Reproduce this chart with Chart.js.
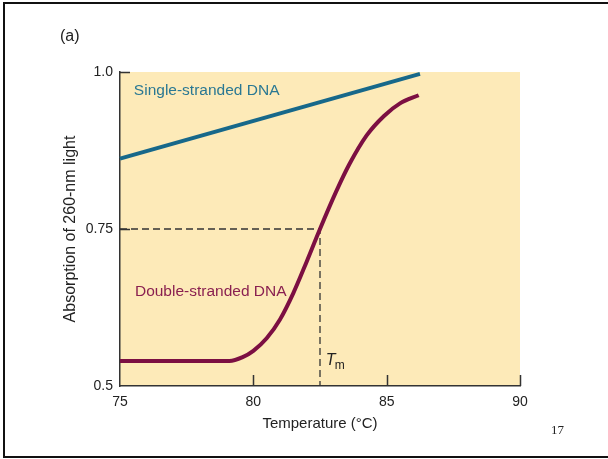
<!DOCTYPE html>
<html>
<head>
<meta charset="utf-8">
<script src="https://cdn.jsdelivr.net/npm/chart.js@4"></script>
<style>
  body { margin: 0; background: #fff; overflow: hidden; }
  #frame { position: absolute; left: 3px; top: 2px; width: 620px; height: 452px; border: 2px solid #111; }
  #dna { position: absolute; left: 0; top: 0; }
</style>
</head>
<body>
<div id="frame"></div>
<canvas id="dna" width="608" height="459"></canvas>
<script>
// temperature (°C) / absorption
const singleTemp = [75, 86.25]
const singleAbs = [0.862, 0.997]

const doubleTemp = [75, 79.1, 79.6, 80.0, 80.5, 81.0, 81.5, 82.0, 82.5, 83.1, 83.6, 84.25, 84.9, 85.5, 86.2]
const doubleAbs = [0.54, 0.54, 0.546, 0.556, 0.576, 0.606, 0.648, 0.698, 0.75, 0.809, 0.853, 0.899, 0.93, 0.95, 0.963]

// Tm guide: across at half transition, then down to the axis
const tmTemp = [75, 82.5, 82.5]
const tmAbs = [0.75, 0.75, 0.5]

const xTickValues = [75, 80, 85, 90]
const yTickValues = [0.5, 0.75, 1.0]
const yTickLabels = ['0.5', '0.75', '1.0']

const toPoints = (xs, ys) => xs.map((x, i) => ({ x: x, y: ys[i] }))

const sans = "'Liberation Sans', Arial, sans-serif"
const teal = '#17688a'
const maroon = '#7c0f42'

const paperPlugin = {
  id: 'paper',
  beforeDraw(chart) {
    const { ctx, chartArea: a } = chart
    ctx.save()
    ctx.fillStyle = '#fdeab8'
    ctx.fillRect(a.left, a.top, a.right - a.left, a.bottom - a.top)
    ctx.restore()
  },
  afterDraw(chart) {
    const { ctx, scales: { x, y } } = chart
    ctx.save()
    // inward tick marks
    ctx.strokeStyle = '#333'
    ctx.lineWidth = 1.5
    ctx.beginPath()
    x.ticks.forEach(t => {
      if (t.value === x.min) return
      const px = Math.round(x.getPixelForValue(t.value)) + 0.5
      ctx.moveTo(px, y.bottom)
      ctx.lineTo(px, y.bottom - 11)
    })
    y.ticks.forEach(t => {
      if (t.value === y.min) return
      const py = Math.round(y.getPixelForValue(t.value)) + 0.5
      ctx.moveTo(x.left, py)
      ctx.lineTo(x.left + 10, py)
    })
    ctx.stroke()

    // curve labels
    ctx.textBaseline = 'middle'
    ctx.font = '15.5px ' + sans
    ctx.fillStyle = '#2a7893'
    ctx.fillText('Single-stranded DNA', x.getPixelForValue(75.52), y.getPixelForValue(0.97))
    ctx.fillStyle = '#8a2050'
    ctx.fillText('Double-stranded DNA', x.getPixelForValue(75.56), y.getPixelForValue(0.65))

    // T_m
    const tx = x.getPixelForValue(82.72)
    const ty = y.getPixelForValue(0.54)
    ctx.fillStyle = '#222'
    ctx.font = 'italic 16px ' + sans
    ctx.fillText('T', tx, ty)
    ctx.font = '12px ' + sans
    ctx.fillText('m', tx + 9, ty + 5)

    // panel letter and page number
    ctx.font = '16px ' + sans
    ctx.fillText('(a)', 60, 37)
    ctx.font = "13px 'Liberation Serif', 'Times New Roman', serif"
    ctx.fillText('17', 551, 431)
    ctx.restore()
  }
}

const ctx1 = document.getElementById('dna')

let config1 = {
  type: 'line',
  data: {
    datasets: [{
      label: 'Single-stranded DNA',
      data: toPoints(singleTemp, singleAbs),
      borderColor: teal,
      borderWidth: 4,
      pointRadius: 0,
      clip: 8,
    }, {
      label: 'Double-stranded DNA',
      data: toPoints(doubleTemp, doubleAbs),
      borderColor: maroon,
      borderWidth: 4,
      pointRadius: 0,
      cubicInterpolationMode: 'monotone',
      clip: 8,
    }, {
      label: 'Tm',
      data: toPoints(tmTemp, tmAbs),
      borderColor: '#333',
      borderWidth: 1.3,
      borderDash: [7, 4],
      pointRadius: 0,
      tension: 0,
    }]
  },

  options: {
    responsive: false,
    animation: false,
    layout: { padding: { top: 72, right: 88, left: 0, bottom: 0 } },
    plugins: {
      legend: { display: false },
      tooltip: { enabled: false }
    },
    scales: {
      x: {
        type: 'linear',
        min: 75,
        max: 90,
        afterBuildTicks: scale => { scale.ticks = xTickValues.map(v => ({ value: v })) },
        afterFit: scale => { scale.height = 73 },
        grid: { display: false, drawTicks: false },
        border: { display: true, color: '#333', width: 1.5 },
        ticks: {
          padding: 8,
          color: '#222',
          font: { family: sans, size: 14 }
        },
        title: {
          display: true,
          text: 'Temperature (°C)',
          color: '#222',
          font: { family: sans, size: 15 },
          padding: { top: 0, bottom: 26 }
        }
      },
      y: {
        min: 0.5,
        max: 1.0,
        afterBuildTicks: scale => { scale.ticks = yTickValues.map(v => ({ value: v })) },
        afterFit: scale => { scale.width = 120 },
        grid: { display: false, drawTicks: false },
        border: { display: true, color: '#333', width: 1.5 },
        ticks: {
          padding: 7,
          color: '#222',
          font: { family: sans, size: 14 },
          callback: (value, index) => yTickLabels[index]
        },
        title: {
          display: true,
          text: 'Absorption of 260-nm light',
          color: '#222',
          font: { family: sans, size: 16 },
          padding: { top: 61, bottom: 0 }
        }
      }
    }
  },
  plugins: [paperPlugin]
};
let chartMelting = new Chart(ctx1, config1)
</script>
</body>
</html>
